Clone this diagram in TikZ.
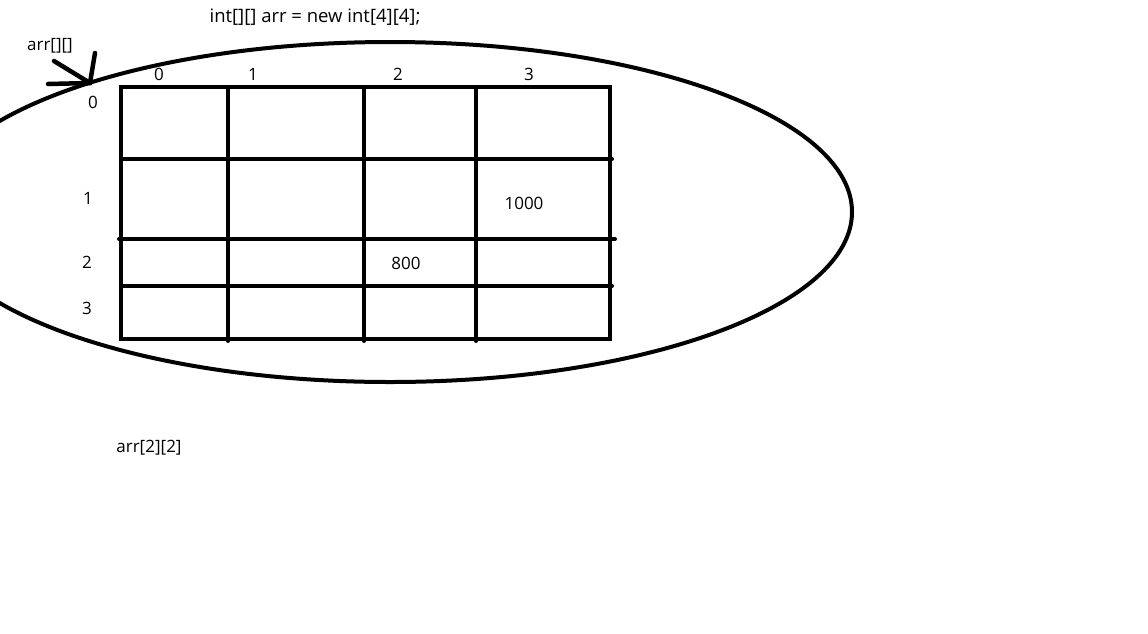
\documentclass[tikz,border=0pt]{standalone}
\usepackage{fontspec}
\setmainfont{Open Sans}
\usetikzlibrary{positioning}

\begin{document}
\begin{tikzpicture}[x=1pt,y=-1pt,
  thick line/.style={line width=4pt,line cap=round},
  lbl/.style={font=\fontsize{17}{19}\selectfont,inner sep=0pt},
  val/.style={font=\fontsize{17}{19}\selectfont,inner sep=0pt}]
  \useasboundingbox[fill=white] (0,0) rectangle (1148,633);
  % the array in memory
  \draw[thick line] (390,212) ellipse [x radius=462,y radius=170];
  \draw[thick line] (121,87) rectangle (610,339);
  \foreach \x in {228,364,476} \draw[thick line] (\x,87) -- (\x,341);
  \draw[thick line] (121,159) -- (612,159);
  \draw[thick line] (119,239) -- (615,239);
  \draw[thick line] (121,286) -- (612,286);
  % indices
  \node[lbl] (c0) at (159,74) {0};
  \node[lbl] (c1) at (253,74) {1};
  \node[lbl] (c2) at (398,74) {2};
  \node[lbl] (c3) at (529,74) {3};
  \node[lbl] (r0) at (93,102) {0};
  \node[lbl] (r1) at (88,198) {1};
  \node[lbl] (r2) at (87,262) {2};
  \node[lbl] (r3) at (87,308) {3};
  \node[val] (v1) at (524,203) {1000};
  \node[val] (v2) at (406,263) {800};
  % code
  \node[lbl,font=\fontsize{18.5}{20}\selectfont] (decl) at (315,17) {int[][] arr = new int[4][4];};
  \node[lbl] (ref) at (50,46) {arr[][]};
  \node[lbl] (acc) at (149,448) {arr[2][2]};
  % pointer
  \coordinate (tip) at (90,83);
  \coordinate (t1) at (48,84);
  \coordinate (t2) at (54,61);
  \coordinate (t3) at (95,53);
  \draw[thick line,line width=4.5pt] (t1) -- (tip);
  \draw[thick line,line width=4.5pt] (t2) -- (tip);
  \draw[thick line,line width=4.5pt] (t3) -- (tip);
\end{tikzpicture}
\end{document}
